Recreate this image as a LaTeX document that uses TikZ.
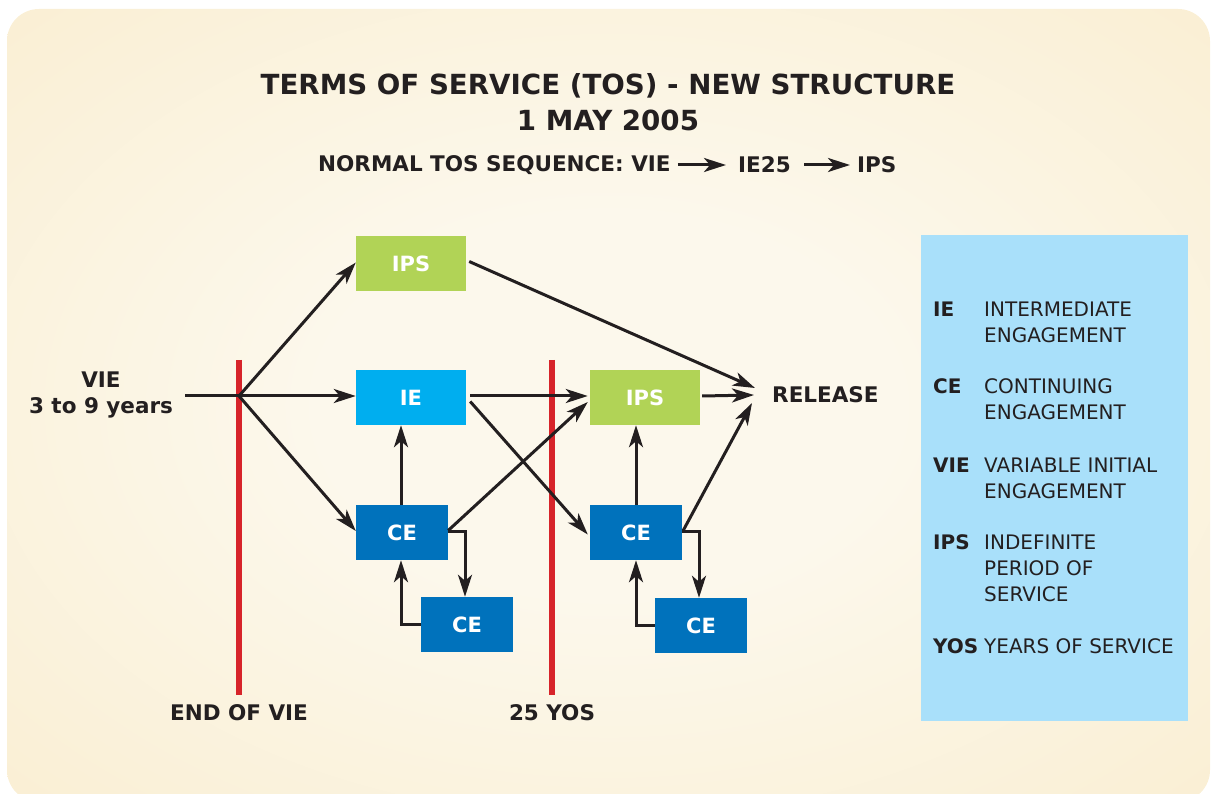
\documentclass[tikz,border=0pt]{standalone}
\usepackage{fontspec}
\setmainfont{DejaVu Sans}
\usetikzlibrary{arrows.meta}
\definecolor{bgin}{HTML}{FCF8EC}
\definecolor{bgmid}{HTML}{F9EDCF}
\definecolor{bgout}{HTML}{F4E2B2}
\definecolor{ipsgreen}{HTML}{B1D356}
\definecolor{ieblue}{HTML}{00AEEF}
\definecolor{ceblue}{HTML}{0072BC}
\definecolor{vred}{HTML}{D7242A}
\definecolor{legbg}{HTML}{A9E0FA}
\definecolor{ink}{HTML}{231F20}
\pgfdeclareradialshading{bgshade}{\pgfpoint{0bp}{0bp}}{%
  color(0bp)=(bgin); color(12bp)=(bgin); color(40bp)=(bgmid); color(62bp)=(bgout); color(100bp)=(bgout)}
\begin{document}
\begin{tikzpicture}[x=1pt,y=-1pt,
  box/.style={minimum height=55pt, inner sep=0pt, text=white,
    font=\bfseries\fontsize{21}{25}\selectfont},
  ipsbox/.style={box, fill=ipsgreen, minimum width=110pt},
  iebox/.style={box, fill=ieblue, minimum width=110pt},
  cebox/.style={box, fill=ceblue, minimum width=92pt},
  tip/.style={-{Stealth[length=22pt,width=14pt,inset=6pt]}},
  arr/.style={draw=ink, line width=3pt, tip},
  ln/.style={draw=ink, line width=3pt},
  redline/.style={draw=vred, line width=5.5pt},
  lbl/.style={text=ink, font=\bfseries\fontsize{21.5}{27}\selectfont, inner sep=0pt},
  sub/.style={text=ink, font=\bfseries\fontsize{21.5}{26}\selectfont, inner sep=0pt, anchor=west},
  legab/.style={text=ink, font=\bfseries\fontsize{20}{26}\selectfont, inner sep=0pt, anchor=base west},
  legtx/.style={text=ink, font=\fontsize{20}{26}\selectfont, inner sep=0pt, anchor=base west}
]
\useasboundingbox (0,0) rectangle (1219,794);
\shade[rounded corners=32pt, shading=bgshade] (7,9) rectangle (1210,802);

% title
\node[text=ink, font=\bfseries\fontsize{27.7}{36}\selectfont, align=center, inner sep=0pt] (title) at (608,102)
  {TERMS OF SERVICE (TOS) - NEW STRUCTURE\\1 MAY 2005};
\node[sub] (s1) at (318,165) {NORMAL TOS SEQUENCE: VIE};
\node[sub] (s2) at (738,165) {IE25};
\node[sub] (s3) at (857,165) {IPS};
\draw[ln, tip] ([xshift=7pt]s1.east) -- ([xshift=-12pt]s2.west);
\draw[ln, tip] ([xshift=13pt]s2.east) -- ([xshift=-7pt]s3.west);

% red lines
\coordinate (r1t) at (239,360); \coordinate (r1b) at (239,695);
\coordinate (r2t) at (552,360); \coordinate (r2b) at (552,695);
\draw[redline] (r1t) -- (r1b);
\draw[redline] (r2t) -- (r2b);

% boxes
\node[ipsbox] (ips1) at (411,263.5) {IPS};
\node[iebox] (ie) at (411,397.5) {IE};
\node[ipsbox] (ips2) at (645,397.5) {IPS};
\node[cebox] (ce1) at (402,532.5) {CE};
\node[cebox] (ce1b) at (467,624.5) {CE};
\node[cebox] (ce2) at (636,532.5) {CE};
\node[cebox] (ce2b) at (701,625.5) {CE};

% labels
\node[lbl, align=center] (vie) at (101,395) {VIE\\[-0.5pt]3 to 9 years};
\node[lbl, anchor=west] (rel) at (772,395) {RELEASE};
\node[lbl] (endvie) at (239,713) {END OF VIE};
\node[lbl] (yos) at (552,713) {25 YOS};

% connectors
\coordinate (vs) at (185,396);
\coordinate (br) at (239,396);
\coordinate (relt) at (755,388);
\coordinate (relm) at (754,395);
\coordinate (relb) at (752,403);
\draw[arr] (vs) -- (ie.west |- vs);
\draw[arr] (br) -- ([yshift=1pt]ips1.west);
\draw[arr] (br) -- ([yshift=1.5pt]ce1.west);
\draw[arr] ([yshift=1.5pt,xshift=4pt]ie.east) -- ([yshift=1.5pt,xshift=-2pt]ips2.west);
\draw[arr] ([yshift=-4pt,xshift=4pt]ie.east) -- ([yshift=-2pt,xshift=-2pt]ce2.west);
\draw[arr] ([yshift=2pt]ce1.east) -- ([yshift=-4.5pt,xshift=-2pt]ips2.west);
\draw[arr] ([xshift=-1pt]ce1.north) -- ([xshift=-1pt]ce1.north |- ie.south);
\draw[arr] ([yshift=1pt]ce1.east) -| ([xshift=-2pt]ce1b.north);
\draw[arr] (ce1b.west) -| ([xshift=-1pt]ce1.south);
\draw[arr] (ce2.north) -- (ce2.north |- ips2.south);
\draw[arr] ([yshift=1pt]ce2.east) -| ([xshift=-2pt]ce2b.north);
\draw[arr] (ce2b.west) -| (ce2.south);
\draw[arr] ([yshift=2pt,xshift=1pt]ce2.east) -- (relb);
\draw[arr] ([xshift=2pt,yshift=1.5pt]ips2.east) -- (relm);
\draw[arr] ([xshift=3pt,yshift=2pt]ips1.east) -- (relt);

% legend
\node[fill=legbg, minimum width=267pt, minimum height=486pt, inner sep=0pt, anchor=north west] (leg) at (921,235) {};
\node[legab] (la1) at (933,317) {IE};
\node[legtx] (lt1a) at (984,317) {INTERMEDIATE};
\node[legtx] (lt1b) at (984,343) {ENGAGEMENT};
\node[legab] (la2) at (933,394) {CE};
\node[legtx] (lt2a) at (984,394) {CONTINUING};
\node[legtx] (lt2b) at (984,420) {ENGAGEMENT};
\node[legab] (la3) at (933,472) {VIE};
\node[legtx] (lt3a) at (984,472) {VARIABLE INITIAL};
\node[legtx] (lt3b) at (984,498) {ENGAGEMENT};
\node[legab] (la4) at (933,549) {IPS};
\node[legtx] (lt4a) at (984,549) {INDEFINITE};
\node[legtx] (lt4b) at (984,575) {PERIOD OF};
\node[legtx] (lt4c) at (984,601) {SERVICE};
\node[legab] (la5) at (933,653) {YOS};
\node[legtx] (lt5) at (984,653) {YEARS OF SERVICE};
\end{tikzpicture}
\end{document}
